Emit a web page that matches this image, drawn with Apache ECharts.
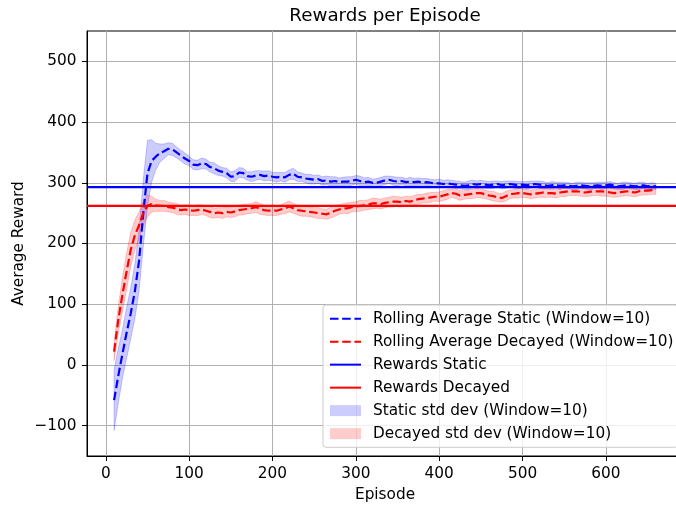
<!DOCTYPE html>
<html><head><meta charset="utf-8">
<script src="https://cdn.jsdelivr.net/npm/echarts@6/dist/echarts.min.js"></script>
<style>html,body{margin:0;padding:0;background:#fff}#c{width:676px;height:505px}</style>
</head><body><div id="c"></div>
<script>
const episodes = [
  10,15,20,25,30,35,40,45,50,55,
  60,65,70,75,80,85,90,95,100,105,
  110,115,120,125,130,135,140,145,150,155,
  160,165,170,175,180,185,190,195,200,205,
  210,215,220,225,230,235,240,245,250,255,
  260,265,270,275,280,285,290,295,300,305,
  310,315,320,325,330,335,340,345,350,355,
  360,365,370,375,380,385,390,395,400,405,
  410,415,420,425,430,435,440,445,450,455,
  460,465,470,475,480,485,490,495,500,505,
  510,515,520,525,530,535,540,545,550,555,
  560,565,570,575,580,585,590,595,600,605,
  610,615,620,625,630,635,640,645,650,655,
  660];
const staticRolling = [
  -58,-18,18,53,85,122,172,250,315,336,
  343,349,352,356,355,350,345,340,336,330,
  329,332,331,326,324,320,318,316,310,311,
  317,316,311,310,312,313,311,312,310,309,
  310,309,313,315,310,309,307,306,305,306,
  303,304,302,303,301,302,302,303,305,303,
  301,302,300,300,302,304,305,303,302,303,
  301,302,301,302,300,301,300,299,299,298,
  299,298,297,296,295,296,298,297,298,297,
  296,297,298,296,297,298,297,296,297,296,
  297,298,297,296,295,296,296,295,296,295,
  294,295,296,295,294,295,296,295,296,297,
  295,294,295,296,295,294,295,296,294,295,
  294];
const decayedRolling = [
  22,74,116,154,190,214,230,250,262,265,
  263,262,262,260,259,257,255,256,255,254,
  255,256,254,252,250,251,250,252,251,253,
  255,256,257,258,260,257,255,254,255,254,
  256,258,261,258,255,254,253,252,251,250,
  249,248,251,254,256,258,258,260,261,262,
  263,264,266,266,265,267,268,269,269,268,
  270,269,271,273,274,275,276,277,277,279,
  281,283,282,279,280,281,282,283,283,281,
  279,278,276,275,278,281,282,283,283,282,
  281,282,283,284,283,283,282,284,285,286,
  286,286,285,284,285,286,286,286,285,284,
  283,284,285,286,285,284,286,287,287,288,
  288];
const staticStd = [
  50,45,40,42,42,45,50,55,55,35,
  22,15,12,10,10,9,9,9,8,8,
  8,9,8,8,9,8,7,8,8,9,
  8,8,7,8,8,7,8,8,7,8,
  7,8,8,9,8,7,7,8,7,7,
  7,7,8,7,7,7,8,7,7,8,
  7,7,6,7,7,7,6,7,7,6,
  6,7,6,6,7,6,6,6,7,6,
  6,6,6,6,6,7,6,6,6,6,
  6,6,5,6,6,5,6,6,5,6,
  6,5,6,6,5,6,5,6,5,5,
  5,6,5,5,6,5,5,6,5,5,
  5,5,6,5,5,5,6,5,5,5,
  5];
const decayedStd = [
  15,22,28,30,28,25,22,20,18,13,
  10,9,9,8,8,9,8,8,9,8,
  9,8,8,9,8,8,9,8,8,9,
  8,9,8,8,9,9,8,8,9,8,
  8,9,9,8,8,9,8,8,8,9,
  8,8,9,9,8,8,9,8,8,9,
  8,8,9,8,8,8,8,9,8,8,
  8,8,8,8,7,8,8,7,8,8,
  8,7,8,8,7,7,8,7,8,7,
  7,8,7,7,8,7,7,8,7,7,
  7,7,7,8,7,7,7,7,8,7,
  7,7,7,7,7,7,7,8,7,7,
  7,7,7,7,7,7,7,7,7,7,
  7];
const rewardsStatic = 293;
const rewardsDecayed = 262;
const xTicks = [0,100,200,300,400,500,600];
const yTicks = [-100,0,100,200,300,400,500];
const xRange = [-22.5, 692.5];
const yRange = [-150, 550];

const FONT = 'DejaVu Sans';
const FS = 15.3;
const pair = (xs, ys) => xs.map((x, i) => [x, ys[i]]);

const names = {
  rs: 'Rolling Average Static (Window=10)',
  rd: 'Rolling Average Decayed (Window=10)',
  hs: 'Rewards Static',
  hd: 'Rewards Decayed',
  ss: 'Static std dev (Window=10)',
  sd: 'Decayed std dev (Window=10)'
};
const DASH = [8.5, 3.7];

function bandSeries(name, mean, std, color) {
  const rows = episodes.map((x, i) => [x, mean[i] - std[i], mean[i] + std[i]]);
  return {
    name: name, type: 'custom', data: rows, silent: true,
    encode: {x: 0, y: [1, 2]},
    itemStyle: {color: color},
    renderItem: function (params, api) {
      if (params.dataIndex !== 0) return null;
      const top = rows.map(r => api.coord([r[0], r[2]]));
      const bot = rows.map(r => api.coord([r[0], r[1]])).reverse();
      return {
        type: 'polygon',
        shape: {points: top.concat(bot)},
        style: {fill: color, stroke: color, lineWidth: 1}
      };
    }
  };
}

const chart = echarts.init(document.getElementById('c'), null, {renderer: 'canvas'});
chart.setOption({
  animation: false,
  backgroundColor: '#ffffff',
  textStyle: {fontFamily: FONT},
  title: {
    text: 'Rewards per Episode',
    left: 385, top: 7, padding: 0,
    textAlign: 'center',
    textStyle: {fontFamily: FONT, fontSize: 18.3, lineHeight: 18.3, fontWeight: 'normal', color: '#000'}
  },
  grid: {
    left: 87, top: 31, width: 596, height: 425,
    show: true, borderColor: '#000', borderWidth: 1, backgroundColor: 'transparent',
    containLabel: false, outerBoundsMode: 'none'
  },
  legend: {
    orient: 'vertical', left: 323, top: 305,
    padding: [6, 4, 6, 6],
    itemWidth: 31, itemHeight: 11, itemGap: 7.7,
    backgroundColor: 'rgba(255,255,255,0.8)',
    borderColor: '#cccccc', borderWidth: 1, borderRadius: 3,
    itemStyle: {opacity: 0},
    textStyle: {fontFamily: FONT, fontSize: FS, color: '#000', lineHeight: FS, padding: [0, 0, 0, 7]},
    data: [
      {name: names.rs}, {name: names.rd}, {name: names.hs}, {name: names.hd},
      {name: names.ss, icon: 'rect', itemStyle: {color: 'rgba(0,0,255,0.2)', opacity: 1}},
      {name: names.sd, icon: 'rect', itemStyle: {color: 'rgba(255,0,0,0.2)', opacity: 1}}
    ],
    selectedMode: false
  },
  xAxis: {
    type: 'value', min: xRange[0], max: xRange[1],
    name: 'Episode', nameLocation: 'middle', nameGap: 31, nameMoveOverlap: false,
    nameTextStyle: {fontFamily: FONT, fontSize: FS, lineHeight: FS, color: '#000'},
    axisLine: {onZero: false, lineStyle: {color: '#000', width: 1}},
    axisTick: {show: true, length: 5, customValues: xTicks, lineStyle: {color: '#000'}},
    axisLabel: {customValues: xTicks, margin: 10, fontFamily: FONT, fontSize: FS, lineHeight: FS, color: '#000'},
    splitLine: {show: true, lineStyle: {color: '#b0b0b0', width: 1}}
  },
  yAxis: {
    type: 'value', min: yRange[0], max: yRange[1],
    name: 'Average Reward', nameLocation: 'middle', nameGap: 60, nameMoveOverlap: false,
    nameTextStyle: {fontFamily: FONT, fontSize: FS, lineHeight: FS, color: '#000'},
    axisLine: {show: true, onZero: false, lineStyle: {color: '#000', width: 1}},
    axisTick: {show: true, length: 5, customValues: yTicks, lineStyle: {color: '#000'}},
    axisLabel: {customValues: yTicks, margin: 10.5, fontFamily: FONT, fontSize: FS, color: '#000',
      formatter: v => String(v).replace('-', '\u2212')},
    splitLine: {show: true, lineStyle: {color: '#b0b0b0', width: 1}}
  },
  series: [
    bandSeries(names.ss, staticRolling, staticStd, 'rgba(0,0,255,0.2)'),
    bandSeries(names.sd, decayedRolling, decayedStd, 'rgba(255,0,0,0.2)'),
    {
      name: names.rs, type: 'line', data: pair(episodes, staticRolling),
      symbol: 'none', itemStyle: {color: '#0000ff'},
      lineStyle: {color: '#0000ff', width: 2.2, type: DASH}
    },
    {
      name: names.rd, type: 'line', data: pair(episodes, decayedRolling),
      symbol: 'none', itemStyle: {color: '#ff0000'},
      lineStyle: {color: '#ff0000', width: 2.2, type: DASH}
    },
    {
      name: names.hs, type: 'line', data: [[xRange[0], rewardsStatic], [xRange[1], rewardsStatic]],
      symbol: 'none', itemStyle: {color: '#0000ff'},
      lineStyle: {color: '#0000ff', width: 2.2}
    },
    {
      name: names.hd, type: 'line', data: [[xRange[0], rewardsDecayed], [xRange[1], rewardsDecayed]],
      symbol: 'none', itemStyle: {color: '#ff0000'},
      lineStyle: {color: '#ff0000', width: 2.2}
    }
  ]
});
</script>
</body></html>
